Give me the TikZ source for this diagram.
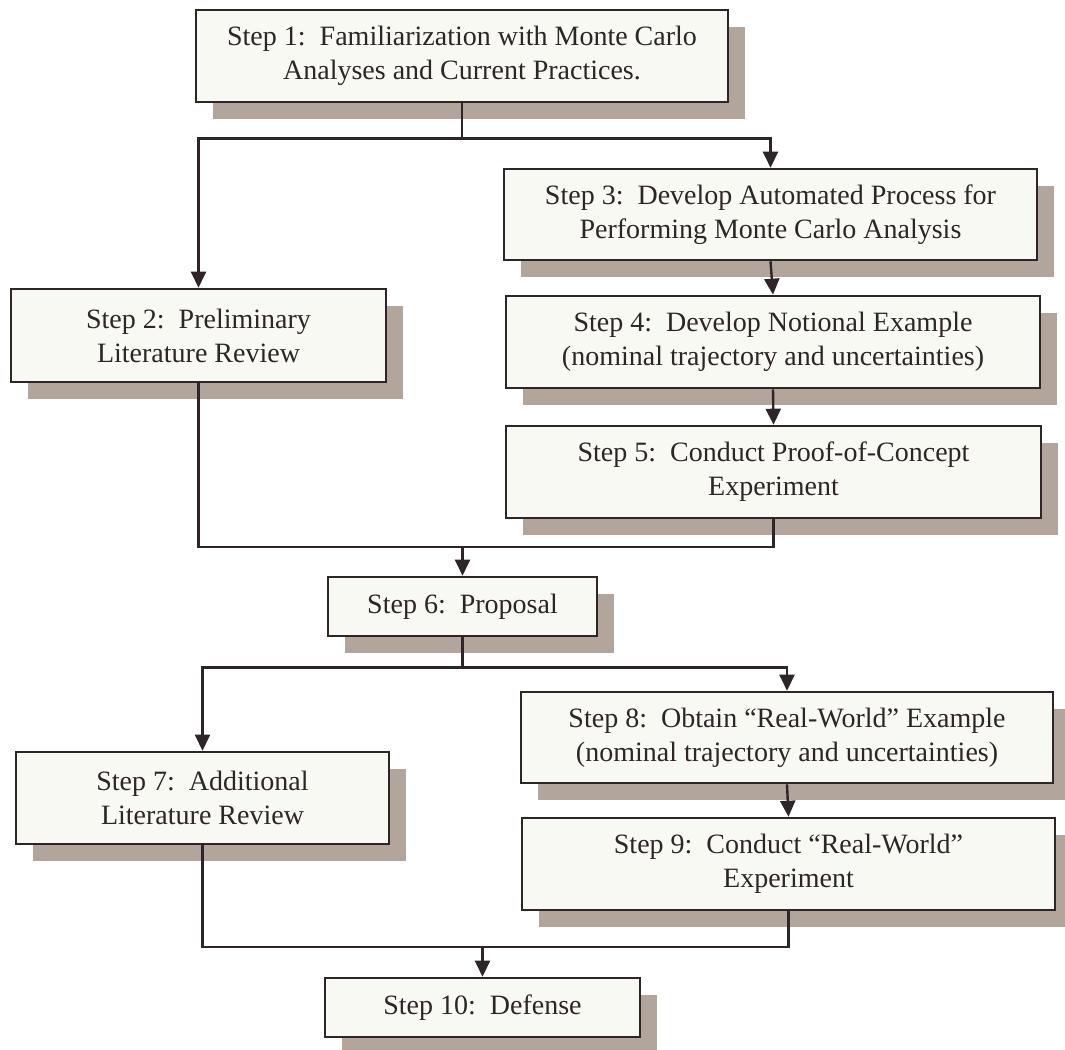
\documentclass[tikz,border=0pt]{standalone}
\usepackage{fontspec}
\setmainfont{Liberation Serif}
\usetikzlibrary{arrows.meta,shadows}
\definecolor{boxfill}{HTML}{F8F9F2}
\definecolor{shadowcol}{HTML}{B2A59C}
\definecolor{ink}{HTML}{2D2528}
\tikzset{
  stepbox/.style={draw=ink, line width=2.6pt, fill=boxfill, text=ink,
    align=center, inner sep=0pt,
    font=\fontsize{28}{34}\selectfont,
    drop shadow={shadow xshift=17pt, shadow yshift=-17pt, fill=shadowcol, opacity=1}},
  link/.style={draw=ink, line width=2.4pt},
  arrowlink/.style={link, -{Triangle[length=16pt,width=15pt]}},
}
\begin{document}
\begin{tikzpicture}[x=1pt,y=-1pt]
\useasboundingbox (0,0) rectangle (1065,1049);

% process steps
\node[stepbox, minimum width=532pt, minimum height=92pt] (b1) at (462,56)
  {Step 1:\ \ Familiarization with Monte Carlo\\Analyses and Current Practices.};
\node[stepbox, minimum width=375pt, minimum height=93pt] (b2) at (198.5,335.5)
  {Step 2:\ \ Preliminary\\Literature Review};
\node[stepbox, minimum width=533pt, minimum height=91pt] (b3) at (770.5,214.5)
  {Step 3:\ \ Develop Automated Process for\\Performing Monte Carlo Analysis};
\node[stepbox, minimum width=534pt, minimum height=92pt] (b4) at (773,342)
  {Step 4:\ \ Develop Notional Example\\(nominal trajectory and uncertainties)};
\node[stepbox, minimum width=535pt, minimum height=92pt] (b5) at (773.5,472)
  {Step 5:\ \ Conduct Proof-of-Concept\\Experiment};
\node[stepbox, minimum width=269pt, minimum height=59pt] (b6) at (462.5,606.5)
  {Step 6:\ \ Proposal};
\node[stepbox, minimum width=373pt, minimum height=92pt] (b7) at (202.5,798)
  {Step 7:\ \ Additional\\Literature Review};
\node[stepbox, minimum width=532pt, minimum height=91pt] (b8) at (787,737.5)
  {Step 8:\ \ Obtain “Real-World” Example\\(nominal trajectory and uncertainties)};
\node[stepbox, minimum width=533pt, minimum height=92pt] (b9) at (788.5,864)
  {Step 9:\ \ Conduct “Real-World”\\Experiment};
\node[stepbox, minimum width=315pt, minimum height=59pt] (b10) at (482.5,1007.5)
  {Step 10:\ \ Defense};

% branching after step 1
\draw[link] (b1.south) -- ++(0,35) coordinate (j1);
\draw[arrowlink] (j1) -| (b2.north);
\draw[arrowlink] (j1) -| (b3.north);
\draw[arrowlink] (b3.south) -- (b4.north);
\draw[arrowlink] (b4.south) -- (b5.north);

% merging into step 6
\coordinate (j2) at ([yshift=29pt]b6.north);
\draw[link] (b2.south) |- (j2);
\draw[link] (b5.south) |- (j2);
\draw[arrowlink] (j2) -- (b6.north);

% branching after step 6
\draw[link] (b6.south) -- ++(0,30) coordinate (j3);
\draw[arrowlink] (j3) -| (b7.north);
\draw[arrowlink] (j3) -| (b8.north);
\draw[arrowlink] (b8.south) -- (b9.north);

% merging into step 10
\coordinate (j4) at ([yshift=30pt]b10.north);
\draw[link] (b7.south) |- (j4);
\draw[link] (b9.south) |- (j4);
\draw[arrowlink] (j4) -- (b10.north);
\end{tikzpicture}
\end{document}
